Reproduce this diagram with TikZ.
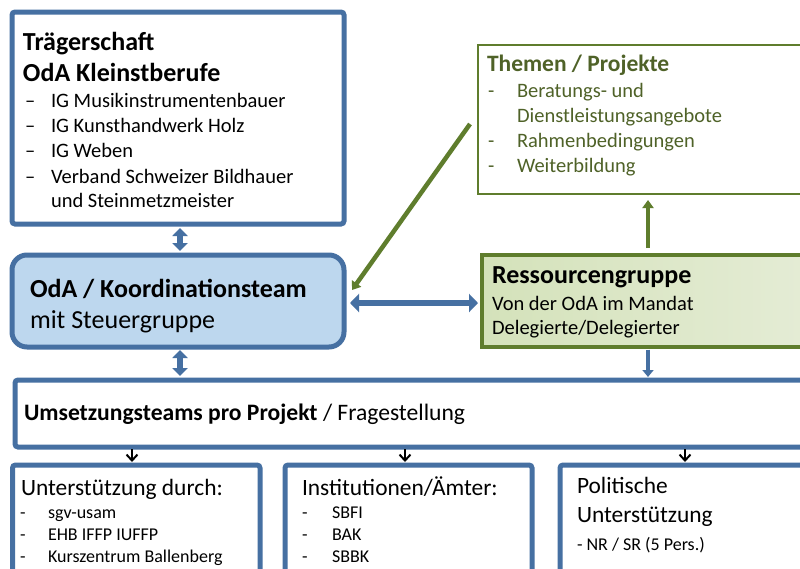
\documentclass[tikz,border=0pt]{standalone}
\usepackage{fontspec}
\setmainfont{Carlito}
\usetikzlibrary{arrows.meta}
\definecolor{bblue}{RGB}{70,112,162}
\definecolor{lblue}{RGB}{189,215,238}
\definecolor{ogreen}{RGB}{95,125,45}
\definecolor{tgreen}{RGB}{79,98,40}
\definecolor{gleft}{RGB}{212,226,186}
\definecolor{gright}{RGB}{230,237,216}
\begin{document}
\begin{tikzpicture}[x=1pt,y=-1pt,
  bluebox/.style={draw=bblue,line width=5pt,outer sep=0pt,inner sep=0pt,anchor=north west,rounded corners=3pt},
  txt/.style={anchor=base west,inner sep=0pt,outer sep=0pt},
  fbig/.style={txt,font=\fontsize{26}{31}\selectfont\bfseries},
  fbigr/.style={txt,font=\fontsize{26}{31}\selectfont},
  fmid/.style={txt,font=\fontsize{20.5}{25}\selectfont},
  fhead/.style={txt,font=\fontsize{23.4}{28}\selectfont},
  fsmall/.style={txt,font=\fontsize{18}{22}\selectfont},
  barrow/.style={draw=bblue,line width=6pt,{Triangle[width=15pt,length=8pt]}-{Triangle[width=15pt,length=8pt]}},
  bhoriz/.style={draw=bblue,line width=6.5pt,{Triangle[width=18pt,length=9pt]}-{Triangle[width=18pt,length=9pt]}},
  bdown/.style={draw=bblue,line width=4pt,-{Triangle[width=11pt,length=7pt]}},
  garrow/.style={draw=ogreen,line width=4.5pt,-{Triangle[width=11pt,length=8pt]}},
  karrow/.style={draw=black,line width=2pt,-{Straight Barb[width=11pt,length=6pt]}}]
\useasboundingbox (0,0) rectangle (800,568);
\fill[white] (0,0) rectangle (800,568);
\clip (0,0) rectangle (800,568);

% Traegerschaft
\node[bluebox,minimum width=332pt,minimum height=212pt] (trag) at (12,12) {};
\node[fbig] (t1) at (23,50) {Trägerschaft};
\node[fbig] (t2) at (23,81) {OdA Kleinstberufe};
\node[fmid] (td1) at (25,107) {–};
\node[fmid] (ti1) at (51,107) {IG Musikinstrumentenbauer};
\node[fmid] (td2) at (25,132) {–};
\node[fmid] (ti2) at (51,132) {IG Kunsthandwerk Holz};
\node[fmid] (td3) at (25,157) {–};
\node[fmid] (ti3) at (51,157) {IG Weben};
\node[fmid] (td4) at (25,183) {–};
\node[fmid] (ti4) at (51,183) {Verband Schweizer Bildhauer};
\node[fmid] (ti5) at (51,207) {und Steinmetzmeister};

% OdA
\node[bluebox,fill=lblue,rounded corners=15pt,minimum width=332pt,minimum height=92pt] (oda) at (12,255) {};
\node[fbig] (o1) at (30,297) {OdA / Koordinationsteam};
\node[fbigr] (o2) at (30,328) {mit Steuergruppe};

% Themen
\node[draw=ogreen,line width=2.5pt,outer sep=0pt,inner sep=0pt,anchor=north west,minimum width=360pt,minimum height=149pt] (them) at (478,45) {};
\begin{scope}[tgreen]
\node[txt,font=\fontsize{23.5}{28}\selectfont\bfseries] (h1) at (487,71) {Themen / Projekte};
\node[fmid] (hd1) at (488,97) {-};
\node[fmid] (hi1) at (517,97) {Beratungs- und};
\node[fmid] (hi2) at (517,122) {Dienstleistungsangebote};
\node[fmid] (hd3) at (488,147) {-};
\node[fmid] (hi3) at (517,147) {Rahmenbedingungen};
\node[fmid] (hd4) at (488,172) {-};
\node[fmid] (hi4) at (517,172) {Weiterbildung};
\end{scope}

% Ressourcengruppe
\node[draw=ogreen,line width=4pt,left color=gleft,right color=gright,outer sep=0pt,inner sep=0pt,anchor=north west,minimum width=360pt,minimum height=91.5pt] (ress) at (482,255) {};
\node[fbig] (r1) at (492,283) {Ressourcengruppe};
\node[fmid] (r2) at (492,310) {Von der OdA im Mandat};
\node[fmid] (r3) at (492,334) {Delegierte/Delegierter};

% Umsetzungsteams
\node[bluebox,minimum width=830pt,minimum height=67pt] (ums) at (15,380) {};
\node[txt,font=\fontsize{23.6}{28}\selectfont] (u1) at (24,420) {\textbf{Umsetzungsteams pro Projekt} / Fragestellung};

% bottom boxes
\node[bluebox,minimum width=247.5pt,minimum height=160pt] (bot1) at (12.5,465) {};
\node[fhead] (a0) at (21,495) {Unterstützung durch:};
\node[fsmall] (ad1) at (20,518) {-};
\node[fsmall] (a1) at (48,518) {sgv-usam};
\node[fsmall] (ad2) at (20,540) {-};
\node[fsmall] (a2) at (48,540) {EHB IFFP IUFFP};
\node[fsmall] (ad3) at (20,562) {-};
\node[fsmall] (a3) at (48,562) {Kurszentrum Ballenberg};

\node[bluebox,minimum width=247pt,minimum height=160pt] (bot2) at (285,465) {};
\node[fhead] (b0) at (302,495) {Institutionen/Ämter:};
\node[fsmall] (bd1) at (302,518) {-};
\node[fsmall] (b1) at (332,518) {SBFI};
\node[fsmall] (bd2) at (302,540) {-};
\node[fsmall] (b2) at (332,540) {BAK};
\node[fsmall] (bd3) at (302,562) {-};
\node[fsmall] (b3) at (332,562) {SBBK};

\node[bluebox,minimum width=280pt,minimum height=160pt] (bot3) at (560,465) {};
\node[fhead] (c1) at (577,493) {Politische};
\node[fhead] (c2) at (577,522) {Unterstützung};
\node[fsmall] (c3) at (577,550) {- NR / SR (5 Pers.)};

% connectors
\coordinate (vx) at (180,0);
\coordinate (gx) at (648,0);
\coordinate (k1) at (132,0);
\coordinate (k2) at (405,0);
\coordinate (k3) at (685,0);
\coordinate (gstart) at (470,124);
\coordinate (gend) at (352,290);

\draw[barrow,shorten <=4pt,shorten >=4pt] (vx |- trag.south) -- (vx |- oda.north);
\draw[barrow,shorten <=3pt,shorten >=4pt] (vx |- oda.south) -- (vx |- ums.north);
\draw[bhoriz,shorten <=6pt,shorten >=4pt] ([yshift=-2pt]oda.east) -- ([yshift=-2pt]oda.east -| ress.west);
\draw[garrow,shorten <=7pt,shorten >=6pt] (gx |- ress.north) -- (gx |- them.south);
\draw[garrow] (gstart) -- (gend);
\draw[bdown,shorten <=3pt,shorten >=3pt] (gx |- ress.south) -- (gx |- ums.north);
\draw[karrow,shorten <=2pt,shorten >=3pt] (k1 |- ums.south) -- (k1 |- bot1.north);
\draw[karrow,shorten <=2pt,shorten >=3pt] (k2 |- ums.south) -- (k2 |- bot2.north);
\draw[karrow,shorten <=2pt,shorten >=3pt] (k3 |- ums.south) -- (k3 |- bot3.north);
\end{tikzpicture}
\end{document}
